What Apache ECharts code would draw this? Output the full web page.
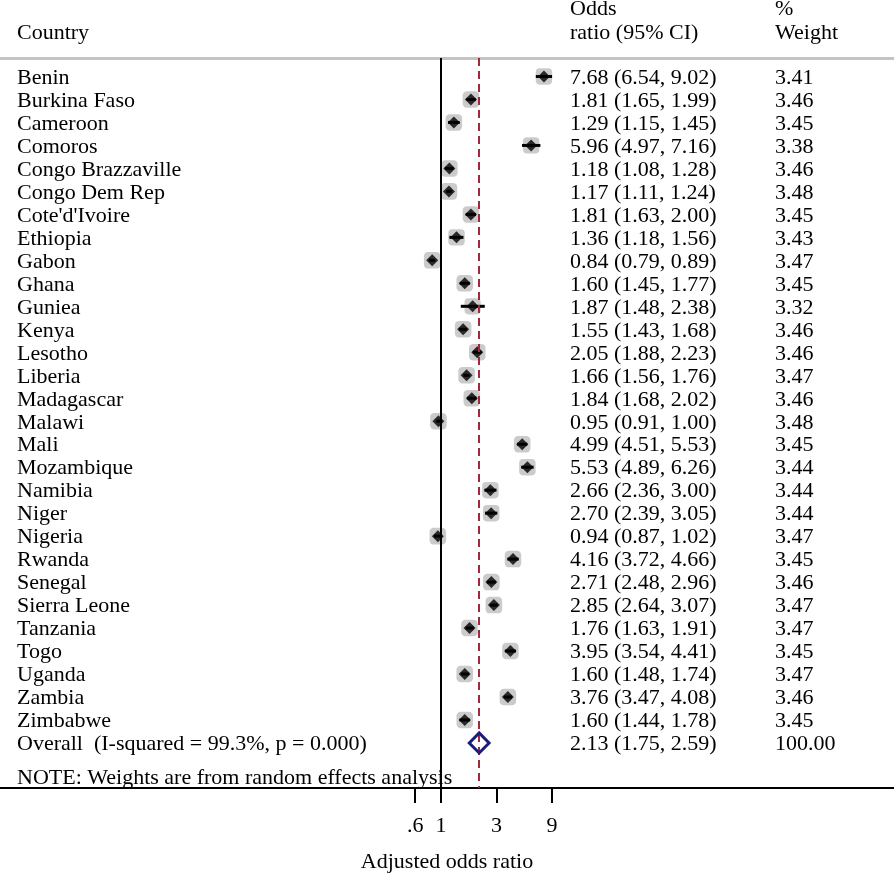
<!DOCTYPE html>
<html><head><meta charset="utf-8">
<script src="https://cdn.jsdelivr.net/npm/echarts@6/dist/echarts.min.js"></script>
<style>html,body{margin:0;padding:0;background:#fff}#c{width:894px;height:876px}</style>
</head><body><div id="c"></div>
<script>
const countries = ['Benin','Burkina Faso','Cameroon','Comoros','Congo Brazzaville','Congo Dem Rep',"Cote'd'Ivoire",'Ethiopia','Gabon','Ghana','Guniea','Kenya','Lesotho','Liberia','Madagascar','Malawi','Mali','Mozambique','Namibia','Niger','Nigeria','Rwanda','Senegal','Sierra Leone','Tanzania','Togo','Uganda','Zambia','Zimbabwe'];
const oddsRatio = [7.68,1.81,1.29,5.96,1.18,1.17,1.81,1.36,0.84,1.60,1.87,1.55,2.05,1.66,1.84,0.95,4.99,5.53,2.66,2.70,0.94,4.16,2.71,2.85,1.76,3.95,1.60,3.76,1.60];
const ciLow = [6.54,1.65,1.15,4.97,1.08,1.11,1.63,1.18,0.79,1.45,1.48,1.43,1.88,1.56,1.68,0.91,4.51,4.89,2.36,2.39,0.87,3.72,2.48,2.64,1.63,3.54,1.48,3.47,1.44];
const ciHigh = [9.02,1.99,1.45,7.16,1.28,1.24,2.00,1.56,0.89,1.77,2.38,1.68,2.23,1.76,2.02,1.00,5.53,6.26,3.00,3.05,1.02,4.66,2.96,3.07,1.91,4.41,1.74,4.08,1.78];
const weights = [3.41,3.46,3.45,3.38,3.46,3.48,3.45,3.43,3.47,3.45,3.32,3.46,3.46,3.47,3.46,3.48,3.45,3.44,3.44,3.44,3.47,3.45,3.46,3.47,3.47,3.45,3.47,3.46,3.45];
const overallLabel = 'Overall  (I-squared = 99.3%, p = 0.000)';
const overallOR = [2.13];
const overallLow = [1.75];
const overallHigh = [2.59];
const overallWeight = [100.00];
const xTickValues = [0.6, 1, 3, 9];
const xTickLabels = ['.6', '1', '3', '9'];
const headerCountry = 'Country';
const headerOR = ['Odds', 'ratio (95% CI)'];
const headerWeight = ['%', 'Weight'];
const noteText = 'NOTE: Weights are from random effects analysis';
const xAxisTitle = 'Adjusted odds ratio';

const FONT = '"Liberation Serif", "Times New Roman", serif';
const FS = 22;
const DY = 1.5;
const fmt = v => v.toFixed(2);
const nRows = countries.length;
const overallIdx = nRows;

const allLabels = countries.concat([overallLabel]);
const allOR = oddsRatio.concat(overallOR);
const allLow = ciLow.concat(overallLow);
const allHigh = ciHigh.concat(overallHigh);
const allW = weights.concat(overallWeight);

const chart = echarts.init(document.getElementById('c'), null, {renderer: 'canvas'});

const textData = allLabels.map((c, i) => [allOR[i], i]);

function txt(text, x, y, align) {
  return {type: 'text', style: {text: text, x: x, y: y + DY, font: FS + 'px ' + FONT, fill: '#000', align: align || 'left', verticalAlign: 'middle'}};
}

const option = {
  animation: false,
  backgroundColor: '#fff',
  grid: {left: 0, right: 0, top: 58, bottom: 88, containLabel: false, outerBoundsMode: 'none'},
  xAxis: [{
    type: 'log', logBase: 10,
    min: Math.exp(-441 / 50.5), max: Math.exp(453 / 50.5),
    position: 'bottom',
    axisLine: {show: true, onZero: false, lineStyle: {color: '#000', width: 2}},
    axisTick: {show: true, customValues: xTickValues, length: 15, lineStyle: {color: '#000', width: 2}},
    axisLabel: {
      customValues: xTickValues, margin: 27, color: '#000', fontFamily: FONT, fontSize: FS,
      formatter: v => { const k = xTickValues.findIndex(t => Math.abs(t - v) < 1e-6); return k >= 0 ? xTickLabels[k] : ''; }
    },
    splitLine: {show: false}, minorTick: {show: false}, minorSplitLine: {show: false},
    name: xAxisTitle, nameLocation: 'middle', nameGap: 63,
    nameTextStyle: {color: '#000', fontFamily: FONT, fontSize: FS}
  }, {
    type: 'value', position: 'top', min: 0, max: 1,
    axisLine: {show: true, onZero: false, lineStyle: {color: '#c4c4c4', width: 3}},
    axisTick: {show: false}, axisLabel: {show: false}, splitLine: {show: false}
  }],
  yAxis: {
    type: 'value', inverse: true, min: -0.805, max: 30.96, show: false,
    axisLine: {onZero: false}, splitLine: {show: false}
  },
  graphic: [
    txt(headerCountry, 17, 32),
    txt(headerOR[0], 570, 8),
    txt(headerOR[1], 570, 32),
    txt(headerWeight[0], 775, 8),
    txt(headerWeight[1], 775, 32),
    txt(noteText, 17, 777)
  ],
  series: [
    {
      type: 'scatter', name: 'box', z: 2,
      data: countries.map((c, i) => [oddsRatio[i], i, weights[i]]),
      symbol: 'roundRect',
      symbolSize: v => 16.5 * Math.sqrt(v[2] / 3.45),
      itemStyle: {color: '#bebebe'},
      silent: true,
      markLine: {
        silent: true, symbol: 'none', label: {show: false}, animation: false,
        data: [
          {xAxis: 1, lineStyle: {color: '#000', width: 2, type: 'solid'}},
          {xAxis: overallOR[0], lineStyle: {color: '#a2283c', width: 2, type: [8, 5]}}
        ]
      }
    },
    {
      type: 'custom', name: 'ci', z: 3, silent: true,
      data: countries.map((c, i) => [ciLow[i], ciHigh[i], i]),
      encode: {x: [0, 1], y: 2},
      renderItem: (params, api) => {
        const a = api.coord([api.value(0), api.value(2)]);
        const b = api.coord([api.value(1), api.value(2)]);
        return {type: 'line', shape: {x1: a[0], y1: a[1], x2: b[0], y2: b[1]}, style: {stroke: '#000', lineWidth: 3}};
      }
    },
    {
      type: 'scatter', name: 'point', z: 4, silent: true,
      data: countries.map((c, i) => [oddsRatio[i], i]),
      symbol: 'diamond', symbolSize: 12,
      itemStyle: {color: '#000'}
    },
    {
      type: 'custom', name: 'overall', z: 5, silent: true,
      data: [[overallLow[0], overallOR[0], overallHigh[0], overallIdx]],
      encode: {x: [0, 1, 2], y: 3},
      renderItem: (params, api) => {
        const yv = api.value(3);
        const l = api.coord([api.value(0), yv]);
        const m = api.coord([api.value(1), yv]);
        const r = api.coord([api.value(2), yv]);
        const h = 10;
        return {type: 'polygon', shape: {points: [[l[0], l[1]], [m[0], m[1] - h], [r[0], r[1]], [m[0], m[1] + h]]},
          style: {fill: 'none', stroke: '#1c1c7c', lineWidth: 3, lineJoin: 'miter'}};
      }
    },
    {
      type: 'custom', name: 'text', z: 6, silent: true,
      data: textData,
      encode: {x: 0, y: 1},
      renderItem: (params, api) => {
        const i = api.value(1);
        const y = api.coord([1, i])[1];
        const x0 = params.coordSys.x;
        return {type: 'group', children: [
          txt(allLabels[i], x0 + 17, y),
          txt(fmt(allOR[i]) + ' (' + fmt(allLow[i]) + ', ' + fmt(allHigh[i]) + ')', x0 + 570, y),
          txt(fmt(allW[i]), x0 + 775, y)
        ]};
      }
    }
  ]
};
chart.setOption(option);
</script>
</body></html>
